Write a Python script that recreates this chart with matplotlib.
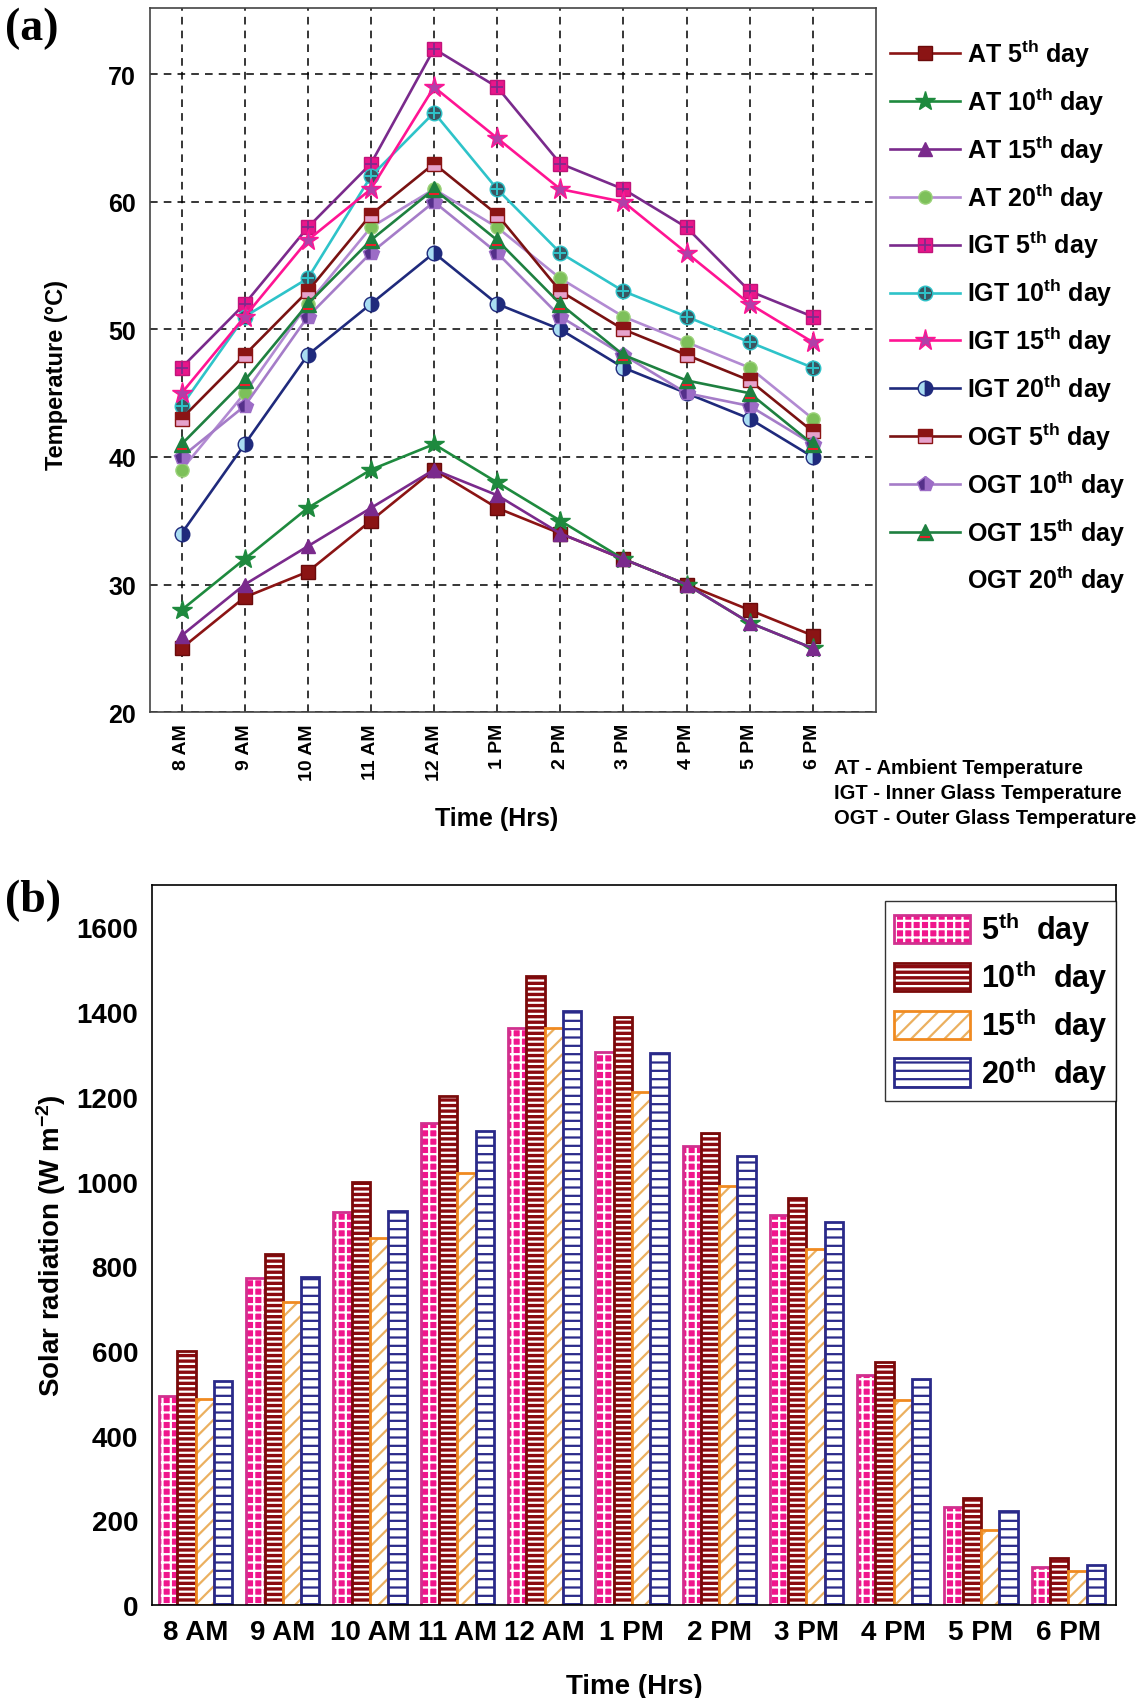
import matplotlib
matplotlib.use("Agg")
import matplotlib.pyplot as plt
from matplotlib.lines import Line2D
from matplotlib.path import Path
from matplotlib.legend_handler import HandlerTuple

plt.rcParams["font.family"] = ["Liberation Sans", "DejaVu Sans"]
plt.rcParams["font.weight"] = "bold"
plt.rcParams["mathtext.fontset"] = "custom"
plt.rcParams["mathtext.rm"] = "Liberation Sans:bold"
plt.rcParams["mathtext.bf"] = "Liberation Sans:bold"
plt.rcParams["mathtext.default"] = "bf"
plt.rcParams["hatch.linewidth"] = 1.6

hours = ["8 AM", "9 AM", "10 AM", "11 AM", "12 AM", "1 PM",
         "2 PM", "3 PM", "4 PM", "5 PM", "6 PM"]

# Temperatures (deg C)
at_5 = [25, 29, 31, 35, 39, 36, 34, 32, 30, 28, 26]
at_10 = [28, 32, 36, 39, 41, 38, 35, 32, 30, 27, 25]
at_15 = [26, 30, 33, 36, 39, 37, 34, 32, 30, 27, 25]
at_20 = [39, 45, 52, 58, 61, 58, 54, 51, 49, 47, 43]
igt_5 = [47, 52, 58, 63, 72, 69, 63, 61, 58, 53, 51]
igt_10 = [44, 51, 54, 62, 67, 61, 56, 53, 51, 49, 47]
igt_15 = [45, 51, 57, 61, 69, 65, 61, 60, 56, 52, 49]
igt_20 = [34, 41, 48, 52, 56, 52, 50, 47, 45, 43, 40]
ogt_5 = [43, 48, 53, 59, 63, 59, 53, 50, 48, 46, 42]
ogt_10 = [40, 44, 51, 56, 60, 56, 51, 48, 45, 44, 41]
ogt_15 = [41, 46, 52, 57, 61, 57, 52, 48, 46, 45, 41]

# Solar radiation (W m-2)
rad_5 = [493, 773, 927, 1139, 1362, 1306, 1085, 920, 544, 232, 90]
rad_10 = [601, 830, 999, 1203, 1485, 1388, 1115, 960, 573, 252, 112]
rad_15 = [487, 716, 866, 1020, 1362, 1212, 990, 840, 485, 177, 81]
rad_20 = [528, 774, 931, 1120, 1403, 1304, 1061, 905, 534, 222, 94]

day_labels = [r"5$^{th}$  day", r"10$^{th}$  day",
              r"15$^{th}$  day", r"20$^{th}$  day"]

# red band near the base of the OGT 15th day triangle
red_band = Path([(0, 1), (-0.62, -0.78), (0.62, -0.78), (0.62, -0.45),
                 (-0.62, -0.45), (0, 0)],
                [Path.MOVETO, Path.MOVETO, Path.LINETO, Path.LINETO,
                 Path.LINETO, Path.CLOSEPOLY])

overlay = {tuple: HandlerTuple(ndivide=1)}
narrow = ["Liberation Sans Narrow", "Liberation Sans", "DejaVu Sans"]


def plot_temperatures(fig):
    ax = fig.add_axes([0.1317, 0.5803, 0.6373, 0.4144])
    x = list(range(len(hours)))
    ms = 9.5
    handles = []

    h, = ax.plot(x, at_5, color="#8B1414", lw=1.9, marker="s", ms=ms,
                 mfc="#8B1414", mec="#6A0A0A")
    handles.append(h)
    h, = ax.plot(x, at_10, color="#1E8A3E", lw=1.9, marker="*", ms=ms + 5,
                 mfc="#1E8A3E", mec="#1E8A3E")
    handles.append(h)
    h, = ax.plot(x, at_15, color="#7A2A8C", lw=1.9, marker="^", ms=ms + 1,
                 mfc="#7A2A8C", mec="#7A2A8C")
    handles.append(h)
    h, = ax.plot(x, at_20, color="#B28AD2", lw=1.9, marker="o", ms=ms,
                 mfc="#7DC05A", mec="#9BD27A")
    handles.append(h)

    h, = ax.plot(x, igt_5, color="#7A2A8C", lw=1.9, marker="s", ms=ms + 1,
                 mfc="#E8168A", mec="#C0147A")
    o, = ax.plot(x, igt_5, ls="none", marker="+", ms=ms - 1, mew=1.2,
                 color="#7A2A8C")
    handles.append((h, o))
    h, = ax.plot(x, igt_10, color="#2EC3C9", lw=1.9, marker="o", ms=ms + 1,
                 mfc="#3A5560", mec="#2EC3C9")
    o, = ax.plot(x, igt_10, ls="none", marker="+", ms=ms - 1, mew=1.4,
                 color="#2EC3C9")
    handles.append((h, o))
    h, = ax.plot(x, igt_15, color="#FF1493", lw=1.9, marker="*", ms=ms + 6,
                 mfc="#B040A8", mec="#FF1493")
    handles.append(h)
    h, = ax.plot(x, igt_20, color="#1F2A7C", lw=1.9, marker="o", ms=ms + 1,
                 fillstyle="left", mfc="#A9DDF2", mfcalt="#1F2A7C",
                 mec="#1F2A7C")
    handles.append(h)

    h, = ax.plot(x, ogt_5, color="#7A1212", lw=1.9, marker="s", ms=ms + 1,
                 fillstyle="top", mfc="#8B1414", mfcalt="#E6A2CC",
                 mec="#8B1414")
    handles.append(h)
    h, = ax.plot(x, ogt_10, color="#A57CC8", lw=1.9, marker="p", ms=ms + 2,
                 fillstyle="left", mfc="#55308A", mfcalt="#9C6CC6",
                 mec="#9C6CC6")
    handles.append(h)
    h, = ax.plot(x, ogt_15, color="#1E8040", lw=1.9, marker="^", ms=ms + 2,
                 mfc="#1E8040", mec="#1E8040")
    o, = ax.plot(x, ogt_15, ls="none", marker=red_band, ms=ms + 2,
                 mfc="#E8202A", mec="#E8202A", mew=0)
    handles.append((h, o))
    handles.append(Line2D([], [], ls="none", marker="none"))

    labels = ["AT 5$^{th}$ day", "AT 10$^{th}$ day", "AT 15$^{th}$ day",
              "AT 20$^{th}$ day", "IGT 5$^{th}$ day", "IGT 10$^{th}$ day",
              "IGT 15$^{th}$ day", "IGT 20$^{th}$ day", "OGT 5$^{th}$ day",
              "OGT 10$^{th}$ day", "OGT 15$^{th}$ day", "OGT 20$^{th}$ day"]

    ax.set_xlim(-0.5, 11)
    ax.set_ylim(20, 75.2)
    ax.set_yticks([20, 30, 40, 50, 60, 70])
    ax.set_xticks(x)
    ax.set_xticklabels(hours, rotation=90, fontsize=14, fontweight="bold")
    ax.tick_params(axis="y", labelsize=18, length=0, pad=10)
    ax.tick_params(axis="x", length=0, pad=8)
    ax.grid(True, color="black", ls=(0, (5, 4)), lw=1.1)
    for s in ax.spines.values():
        s.set_color("#444444")
        s.set_linewidth(1.2)
    ax.set_xlabel("Time (Hrs)", fontsize=18, fontweight="bold", labelpad=19)
    ax.xaxis.label.set_x(0.478)
    ax.set_ylabel("Temperature (°C)", fontsize=17, fontweight="bold",
                  labelpad=29)
    ax.yaxis.label.set_y(0.48)

    fig.legend(handles, labels, loc="upper left",
               bbox_to_anchor=(0.770, 0.985), frameon=False, fontsize=18,
               handlelength=2.8, labelspacing=0.63, borderpad=0,
               handletextpad=0.3, handler_map=overlay)

    notes = ["AT - Ambient Temperature",
             "IGT - Inner Glass Temperature",
             "OGT - Outer Glass Temperature"]
    for i, note in enumerate(notes):
        fig.text(0.732, 0.5474 - i * 0.0147, note, family=narrow,
                 fontsize=14.5, fontweight="bold", va="center")


def plot_radiation(fig):
    ax = fig.add_axes([0.1334, 0.0547, 0.8466, 0.4238])
    x = list(range(len(hours)))
    w = 0.21
    series = [rad_5, rad_10, rad_15, rad_20]
    fills = ["#F0168C", "#8B0A10", "white", "white"]
    hatch_colors = ["white", "white", "#EBB060", "#2A2A8A"]
    hatches = ["++", "---", "//", "--"]
    outlines = ["#D0308E", "#7A0A0A", "#F08A20", "#2A2A8A"]

    handles = []
    for i, vals in enumerate(series):
        pos = [xi + (i - 1.5) * w for xi in x]
        inner = ax.bar(pos, vals, w, color=fills[i],
                       edgecolor=hatch_colors[i], hatch=hatches[i], lw=0)
        outer = ax.bar(pos, vals, w, facecolor="none",
                       edgecolor=outlines[i], lw=2)
        handles.append((inner[0], outer[0]))

    ax.set_xlim(-0.5, 10.55)
    ax.set_ylim(0, 1700)
    ax.set_yticks(range(0, 1601, 200))
    ax.set_xticks(x)
    ax.set_xticklabels(hours, fontsize=20, fontweight="bold")
    ax.tick_params(axis="y", labelsize=20, length=0, pad=10)
    ax.tick_params(axis="x", length=0, pad=10)
    for s in ax.spines.values():
        s.set_color("black")
        s.set_linewidth(1.2)
    ax.set_xlabel("Time (Hrs)", fontsize=20, fontweight="bold", labelpad=20)
    ax.set_ylabel("Solar radiation (W m$^{-2}$)", fontsize=20,
                  fontweight="bold", labelpad=6)

    leg = ax.legend(handles, day_labels, loc="upper right",
                    bbox_to_anchor=(1.0, 0.978), borderaxespad=0,
                    fontsize=22, handlelength=2.5, handleheight=1.05,
                    labelspacing=0.29, borderpad=0.28, handletextpad=0.35,
                    fancybox=False, edgecolor="black", handler_map=overlay)
    leg.get_frame().set_linewidth(1.0)


def generate_figure():
    fig = plt.figure(figsize=(11.39, 16.99), dpi=100)
    plot_temperatures(fig)
    plot_radiation(fig)
    serif = ["Liberation Serif", "DejaVu Serif"]
    fig.text(0.004, 0.983, "(a)", family=serif, fontsize=33,
             fontweight="bold", va="center")
    fig.text(0.004, 0.470, "(b)", family=serif, fontsize=33,
             fontweight="bold", va="center")
    fig.savefig("out.png", dpi=100, facecolor="white")


if __name__ == "__main__":
    generate_figure()
